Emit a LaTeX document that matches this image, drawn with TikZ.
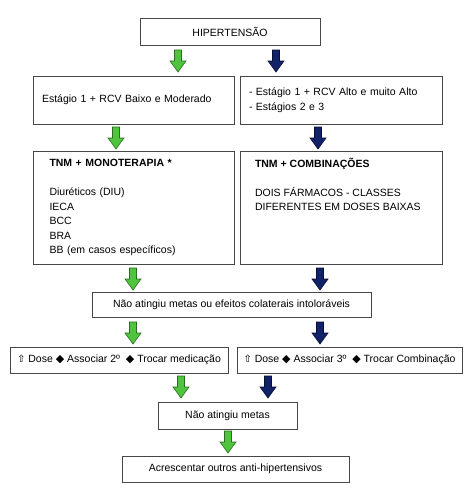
\documentclass[tikz,border=0pt]{standalone}
\usepackage{fontspec}
\setmainfont{Liberation Sans}
\newfontfamily\symfont{DejaVu Sans}
\definecolor{agreen}{RGB}{80,196,62}
\definecolor{agreendk}{RGB}{38,110,30}
\definecolor{ablue}{RGB}{18,34,104}
\definecolor{abluedk}{RGB}{8,14,50}
\definecolor{boxline}{RGB}{70,70,70}
\tikzset{
  box/.style={draw=boxline, line width=0.8pt, inner sep=0pt, font=\fontsize{10.5}{14.5}\selectfont},
  garrow/.style={fill=agreen, draw=agreendk, line width=0.6pt},
  barrow/.style={fill=ablue, draw=abluedk, line width=0.6pt},
  dnarrow/.pic={\draw[pic actions] (-3.5,0) -- (3.5,0) -- (3.5,11) -- (8,11) -- (0,22) -- (-8,11) -- (-3.5,11) -- cycle;}
}
\newcommand{\up}{{\symfont\fontsize{10}{10}\selectfont ⇧}}
\newcommand{\dm}{{\symfont\fontsize{11}{11}\selectfont ◆}}
\begin{document}
\begin{tikzpicture}[x=1pt,y=-1pt]
\useasboundingbox[fill=white] (0,0) rectangle (474,498);
\node[box, minimum width=180pt, minimum height=27pt] (h) at (230,31.5) {HIPERTENSÃO};
\node[box, minimum width=201pt, minimum height=48pt, text width=183pt, inner xsep=9pt, align=left] (b2l) at (133.5,100) {Estágio 1 + RCV Baixo e Moderado};
\node[box, minimum width=202pt, minimum height=48pt, text width=184pt, inner xsep=9pt, align=left] (b2r) at (341,100) {- Estágio 1 + RCV Alto e muito Alto\\- Estágios 2 e 3};
\node[box, minimum width=201pt, minimum height=113pt, text width=168pt, inner xsep=16.5pt, align=left] (b3l) at (133.5,207.5) {\textbf{TNM + MONOTERAPIA *}\\[14.5pt]Diuréticos (DIU)\\IECA\\BCC\\BRA\\BB (em casos específicos)};
\node[box, minimum width=202pt, minimum height=113pt] (b3r) at (341,207.5) {};
\node[box, draw=none, anchor=north west, align=left] (t3r) at ([xshift=15pt,yshift=-7pt]b3r.north west) {\textbf{TNM + COMBINAÇÕES}\\[14.5pt]DOIS FÁRMACOS - CLASSES\\DIFERENTES EM DOSES BAIXAS};
\node[box, minimum width=279pt, minimum height=25pt] (b4) at (231.5,304.5) {Não atingiu metas ou efeitos colaterais intoloráveis};
\node[box, minimum width=218pt, minimum height=26pt] (b5l) at (119,360) {\up\ Dose \dm\ Associar 2º \ \dm\ Trocar medicação};
\node[box, minimum width=225pt, minimum height=26pt] (b5r) at (349.5,360) {\up\ Dose \dm\ Associar 3º \ \dm\ Trocar Combinação};
\node[box, minimum width=139pt, minimum height=27pt] (b6) at (227.5,415.5) {Não atingiu metas};
\node[box, minimum width=227pt, minimum height=26pt] (b7) at (235.5,469) {Acrescentar outros anti-hipertensivos};
\pic[garrow] at (178,50) {dnarrow};
\pic[barrow] at (276,50) {dnarrow};
\pic[garrow] at (116,127) {dnarrow};
\pic[barrow] at (318,127) {dnarrow};
\pic[garrow] at (133,268) {dnarrow};
\pic[barrow] at (320,268) {dnarrow};
\pic[garrow] at (133,322) {dnarrow};
\pic[barrow] at (320,322) {dnarrow};
\pic[garrow] at (181,376) {dnarrow};
\pic[barrow] at (268,376) {dnarrow};
\pic[garrow] at (228,431) {dnarrow};
\end{tikzpicture}
\end{document}
